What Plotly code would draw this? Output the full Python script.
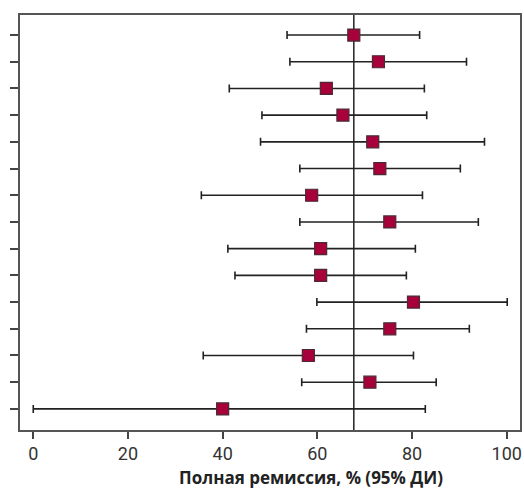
import plotly.graph_objects as go

rows = list(range(15, 0, -1))  # top to bottom
point = [67.7, 72.9, 61.9, 65.4, 71.7, 73.2, 58.8, 75.3, 60.7, 60.7, 80.3, 75.3, 58.1, 71.1, 40.0]
lower = [53.6, 54.2, 41.4, 48.3, 48.0, 56.3, 35.5, 56.3, 41.1, 42.6, 59.9, 57.7, 35.9, 56.7, 0.0]
upper = [81.6, 91.5, 82.6, 83.1, 95.3, 90.2, 82.2, 94.0, 80.7, 78.8, 100.1, 92.1, 80.3, 85.1, 82.8]
pooled = 67.7
x_ticks = [0, 20, 40, 60, 80, 100]
x_title = "Полная ремиссия, % (95% ДИ)"

fig = go.Figure()
fig.add_trace(go.Scatter(
    x=point, y=rows, mode="markers",
    marker=dict(symbol="square", size=12, color="#A8003A",
                line=dict(color="#4a2a33", width=1.2)),
    error_x=dict(type="data", symmetric=False,
                 array=[u - p for u, p in zip(upper, point)],
                 arrayminus=[p - l for p, l in zip(point, lower)],
                 color="#222222", thickness=1.6, width=4),
    showlegend=False,
))
fig.add_shape(type="line", x0=pooled, x1=pooled, y0=0, y1=1, xref="x", yref="paper",
              line=dict(color="#222222", width=1.5), layer="below")

fig.add_annotation(text="<b>" + x_title + "</b>", xref="paper", yref="paper",
                   x=0.5817, y=-0.115, xanchor="center", yanchor="middle", showarrow=False,
                   borderpad=0,
                   font=dict(size=17, color="#222222", family="Open Sans"))

fig.update_layout(
    width=524, height=488,
    margin=dict(l=20, r=2, t=15, b=58),
    plot_bgcolor="white", paper_bgcolor="white",
    font=dict(family="Roboto", color="#333333"),
)
fig.update_xaxes(
    range=[-2.8, 102.8], tickvals=x_ticks, ticks="outside", ticklen=7, tickwidth=1.5,
    tickcolor="#444444", showgrid=False, zeroline=False,
    showline=True, linecolor="#555555", linewidth=1.5, mirror=True,
    tickfont=dict(size=18, color="#333333", family="Roboto"),
)
fig.update_yaxes(
    range=[0.21, 15.75], tickvals=rows, ticks="outside", ticklen=8, tickwidth=1.5,
    tickcolor="#444444", showticklabels=False, showgrid=False, zeroline=False,
    showline=True, linecolor="#555555", linewidth=1.5, mirror=True,
)
fig.write_html("out.html")
